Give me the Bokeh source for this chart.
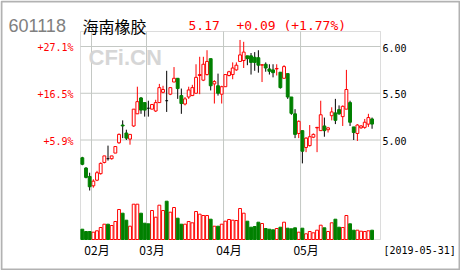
from bokeh.plotting import figure
from bokeh.models import Range1d, Label, BoxAnnotation
from bokeh.core.properties import value
from bokeh.embed import file_html
from bokeh.resources import INLINE

# ---------------- data ----------------
stock_code = "601118"
stock_name = "海南橡胶"
last_price = "5.17"
change_text = "+0.09 (+1.77%)"
date_text = "[2019-05-31]"
watermark = "CFi.CN"

opens = [4.81, 4.70, 4.61, 4.51, 4.57, 4.64, 4.76, 4.80, 4.80, 4.86,
         4.97, 5.16, 5.075, 5.01, 5.15, 5.28, 5.45, 5.40, 5.34, 5.33,
         5.31, 5.40, 5.51, 5.42, 5.49, 5.62, 5.66, 5.475, 5.385, 5.46,
         5.475, 5.50, 5.69, 5.64, 5.70, 5.87, 5.60, 5.58, 5.49, 5.57,
         5.69, 5.70, 5.75, 5.84, 5.85, 5.90, 5.90, 5.885, 5.88, 5.80,
         5.81, 5.76, 5.75, 5.76, 5.725, 5.66, 5.71, 5.46, 5.28, 5.07,
         5.10, 4.92, 4.94, 5.03, 5.13, 5.10, 5.15, 5.11, 5.26, 5.29,
         5.325, 5.25, 5.33, 5.40, 5.14, 5.07, 5.13, 5.135, 5.17, 5.225]
highs = [4.82, 4.71, 4.65, 4.58, 4.67, 4.76, 4.83, 4.94, 4.83, 4.93,
         5.07, 5.21, 5.11, 5.06, 5.33, 5.57, 5.46, 5.40, 5.42, 5.38,
         5.43, 5.60, 5.58, 5.74, 5.56, 5.78, 5.66, 5.55, 5.46, 5.57,
         5.59, 5.81, 5.89, 5.89, 5.96, 5.87, 5.64, 5.71, 5.58, 5.70,
         5.74, 5.83, 5.83, 6.07, 6.05, 5.90, 5.93, 5.94, 5.96, 5.81,
         5.83, 5.81, 5.81, 5.81, 5.725, 5.80, 5.71, 5.46, 5.33, 5.21,
         5.10, 5.03, 5.16, 5.07, 5.14, 5.42, 5.24, 5.14, 5.35, 5.44,
         5.37, 5.37, 5.75, 5.42, 5.14, 5.17, 5.16, 5.225, 5.28, 5.24]
lows = [4.73, 4.59, 4.46, 4.49, 4.56, 4.63, 4.75, 4.78, 4.79, 4.86,
        4.96, 5.02, 5.00, 4.95, 5.14, 5.28, 5.28, 5.25, 5.25, 5.33,
        5.30, 5.40, 5.50, 5.30, 5.48, 5.62, 5.44, 5.28, 5.37, 5.44,
        5.47, 5.50, 5.49, 5.63, 5.69, 5.53, 5.39, 5.475, 5.39, 5.57,
        5.68, 5.65, 5.74, 5.84, 5.77, 5.80, 5.70, 5.74, 5.72, 5.62,
        5.73, 5.70, 5.67, 5.69, 5.55, 5.66, 5.44, 5.27, 5.02, 5.02,
        4.75, 4.87, 4.93, 5.02, 4.87, 5.10, 5.035, 5.08, 5.21, 5.17,
        5.27, 5.15, 5.33, 5.15, 5.00, 4.99, 5.12, 5.12, 5.14, 5.12]
closes = [4.74, 4.60, 4.50, 4.56, 4.65, 4.75, 4.83, 4.80, 4.83, 4.93,
          5.06, 5.15, 5.02, 5.06, 5.33, 5.41, 5.32, 5.32, 5.34, 5.38,
          5.40, 5.56, 5.54, 5.42, 5.56, 5.66, 5.55, 5.39, 5.44, 5.535,
          5.56, 5.67, 5.70, 5.81, 5.84, 5.58, 5.625, 5.50, 5.57, 5.70,
          5.73, 5.77, 5.80, 5.91, 5.94, 5.87, 5.83, 5.83, 5.80, 5.805,
          5.77, 5.735, 5.72, 5.765, 5.56, 5.785, 5.46, 5.285, 5.06, 5.20,
          4.88, 5.02, 5.035, 5.06, 5.135, 5.27, 5.10, 5.13, 5.30, 5.21,
          5.28, 5.36, 5.54, 5.19, 5.08, 5.16, 5.15, 5.19, 5.24, 5.17]
volumes = [10.3, 8.0, 8.0, 7.3, 8.7, 12.0, 15.3, 15.3, 14.0, 18.0,
           30.0, 26.3, 19.3, 13.3, 35.3, 35.3, 26.3, 16.3, 15.7, 29.0,
           22.3, 34.3, 29.0, 38.3, 27.3, 32.0, 21.3, 15.3, 15.3, 18.0,
           16.7, 28.0, 25.3, 24.0, 24.0, 20.3, 13.3, 13.3, 15.3, 18.3,
           20.0, 19.3, 19.0, 31.0, 26.3, 18.3, 12.3, 13.0, 17.3, 16.0,
           11.0, 10.3, 9.7, 11.0, 12.3, 17.3, 11.3, 10.7, 11.7, 7.3,
           11.3, 5.7, 8.0, 6.7, 9.3, 14.3, 11.7, 8.0, 16.7, 20.3,
           12.3, 12.0, 24.0, 15.7, 9.3, 9.3, 8.3, 8.0, 8.7, 9.3]

month_labels = ["02月", "03月", "04月", "05月"]
month_start_idx = [3, 18, 39, 60]
price_ticks = [5.00, 5.50, 6.00]
pct_labels = ["+5.9%", "+16.5%", "+27.1%"]

# ---------------- layout constants (pixels) ----------------
RED = "#ff0000"
GREEN = "#008000"
GRID = "#c4c8c4"
MONO = "DejaVu Sans Mono"

W, H = 460, 270
BOX_L, BOX_R, BOX_T, BOX_B = 80, 380, 31, 239       # plot box, page pixels
Y6_PX = 46                                          # page y of the 6.00 line
PX_PER_YUAN = 93.5
N_SLOTS = 81.8                                      # bar slots across the box
px_per_slot = (BOX_R - BOX_L) / N_SLOTS

x_lo = -BOX_L / px_per_slot
x_hi = x_lo + W / px_per_slot
y_hi = 6.0 + Y6_PX / PX_PER_YUAN
y_lo = y_hi - H / PX_PER_YUAN
box_top = 6.0 - (BOX_T - Y6_PX) / PX_PER_YUAN
box_bot = 6.0 - (BOX_B - Y6_PX) / PX_PER_YUAN
v_lo = -(H - BOX_B)                                 # volume: 1 unit = 1 px, 0 at box bottom
v_hi = v_lo + H

p = figure(width=W, height=H, x_range=Range1d(x_lo, x_hi), y_range=Range1d(y_lo, y_hi),
           output_backend="svg", toolbar_location=None,
           x_axis_location=None, y_axis_location=None,
           min_border_left=0, min_border_right=0, min_border_top=0, min_border_bottom=0)
p.background_fill_color = "white"
p.border_fill_color = "white"
p.outline_line_color = None
p.xgrid.visible = False
p.ygrid.visible = False
p.extra_y_ranges = {"vol": Range1d(v_lo, v_hi)}

# outer black frame of the picture
p.add_layout(BoxAnnotation(left=1, right=W - 1, top=H - 1, bottom=1,
                           left_units="screen", right_units="screen",
                           top_units="screen", bottom_units="screen",
                           fill_color=None, line_color="black", line_width=2))

# grid lines inside the plot box
p.segment(x0=[0] * len(price_ticks), x1=[N_SLOTS] * len(price_ticks),
          y0=price_ticks, y1=price_ticks, line_color=GRID, line_width=1)
p.segment(x0=month_start_idx, x1=month_start_idx,
          y0=[box_bot] * len(month_start_idx), y1=[box_top] * len(month_start_idx),
          line_color=GRID, line_width=1)
p.add_layout(BoxAnnotation(left=0, right=N_SLOTS, top=box_top, bottom=box_bot,
                           fill_color=None, line_color="#8a8a8a", line_width=1, level="underlay"))

# ---------------- candles ----------------
n = len(opens)
xs = [i + 0.5 for i in range(n)]
up = [i for i in range(n) if closes[i] > opens[i]]
down = [i for i in range(n) if closes[i] < opens[i]]
flat = [i for i in range(n) if closes[i] == opens[i]]

def pick(arr, idx):
    return [arr[i] for i in idx]

bw = 0.78
p.segment(x0=pick(xs, up), y0=pick(lows, up), x1=pick(xs, up), y1=pick(highs, up),
          line_color=RED, line_width=1)
p.segment(x0=pick(xs, down), y0=pick(lows, down), x1=pick(xs, down), y1=pick(highs, down),
          line_color="black", line_width=1)
p.segment(x0=pick(xs, flat), y0=pick(lows, flat), x1=pick(xs, flat), y1=pick(highs, flat),
          line_color="black", line_width=1)
p.vbar(x=pick(xs, up), width=bw, top=pick(closes, up), bottom=pick(opens, up),
       fill_color="white", line_color=RED, line_width=1)
p.vbar(x=pick(xs, down), width=bw, top=pick(opens, down), bottom=pick(closes, down),
       fill_color=GREEN, line_color=GREEN, line_width=1)
p.segment(x0=[x - bw / 2 for x in pick(xs, flat)], y0=pick(opens, flat),
          x1=[x + bw / 2 for x in pick(xs, flat)], y1=pick(closes, flat),
          line_color="black", line_width=1)

# ---------------- volume ----------------
vup = [i for i in range(n) if closes[i] > opens[i]]
vdn = [i for i in range(n) if closes[i] <= opens[i]]
p.vbar(x=pick(xs, vup), width=bw, top=pick(volumes, vup), bottom=0, y_range_name="vol",
       fill_color="white", line_color=RED, line_width=1)
p.vbar(x=pick(xs, vdn), width=bw, top=pick(volumes, vdn), bottom=0, y_range_name="vol",
       fill_color=GREEN, line_color=GREEN, line_width=1)

# ---------------- tick labels ----------------
p.text(x=[0] * len(price_ticks), y=price_ticks, text=pct_labels, x_offset=-7, y_offset=1,
       text_align="right", text_baseline="middle", text_color=RED,
       text_font=value(MONO), text_font_size="10px")
p.text(x=[N_SLOTS] * len(price_ticks), y=price_ticks, text=[f"{t:.2f}" for t in price_ticks],
       x_offset=2, y_offset=1, text_align="left", text_baseline="middle", text_color="black",
       text_font=value(MONO), text_font_size="10px")
p.text(x=[m + 1.5 for m in month_start_idx], y=[box_bot] * len(month_start_idx), text=month_labels,
       y_offset=1, text_align="center", text_baseline="top", text_color="black",
       text_font=value("Noto Sans CJK SC"), text_font_size="12px")

# ---------------- header / footer texts ----------------
def add_text(txt, ax, ay, size, color, font, style="normal"):
    # ax, ay: page pixels (left, baseline); screen y counts up from the bottom
    p.add_layout(Label(x=ax, y=H - ay, x_units="screen", y_units="screen",
                       text=txt, text_font=font, text_font_size=size, text_color=color,
                       text_font_style=style, text_baseline="alphabetic", text_align="left"))

add_text(watermark, 88, 57, "22px", "#d6d6d6", "Liberation Sans", "bold")
add_text(stock_code, 8, 25, "18px", "#808080", "Liberation Sans")
add_text(stock_name, 82, 25, "16px", "black", "Noto Sans CJK SC")
add_text(last_price, 188, 25, "13px", RED, MONO)
add_text(change_text, 236, 25, "13px", RED, MONO)
add_text(date_text, 383, 250, "10px", "black", MONO)

open("out.html", "w").write(file_html(p, INLINE))
